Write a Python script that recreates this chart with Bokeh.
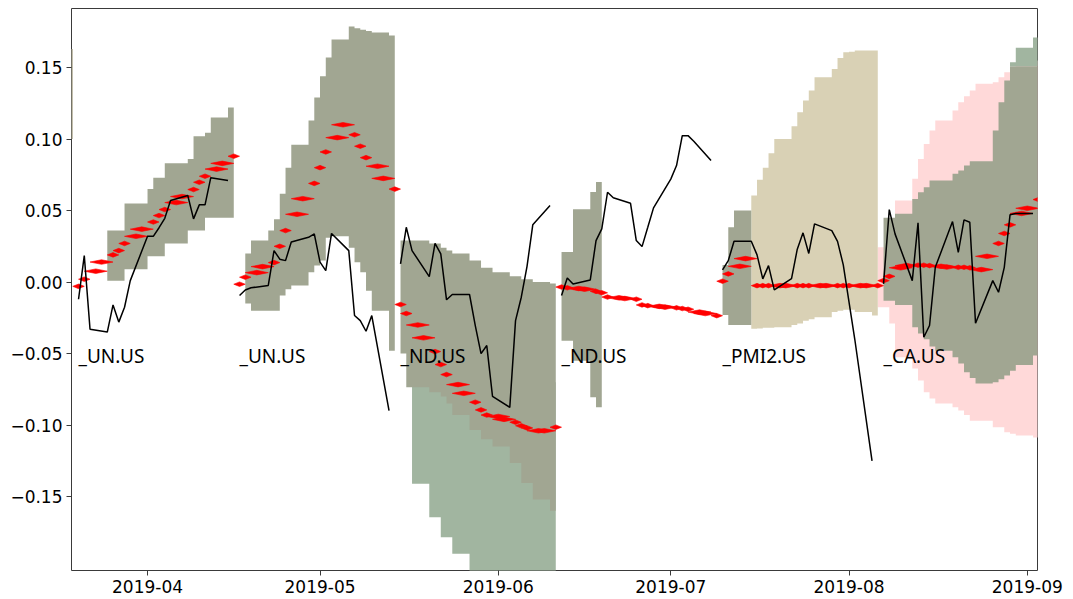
import numpy as np
import pandas as pd
from bokeh.plotting import figure
from bokeh.models import FixedTicker, CustomJSTickFormatter, Range1d
from bokeh.embed import file_html
from bokeh.resources import INLINE
from bokeh.core.properties import value

# ---------------- data ----------------
labels = ["_UN.US", "_UN.US", "_ND.US", "_ND.US", "_PMI2.US", "_CA.US"]
label_dates = ["2019-03-20", "2019-04-17", "2019-05-15", "2019-06-12", "2019-07-10", "2019-08-07"]
label_level = -0.052

month_ticks = ["2019-04-01", "2019-05-01", "2019-06-01", "2019-07-01", "2019-08-01", "2019-09-01"]
y_ticks = [-0.15, -0.10, -0.05, 0.0, 0.05, 0.10, 0.15]

# red (median path) : one value per weekday from the start date
red_starts = ["2019-03-19", "2019-04-16", "2019-05-14", "2019-06-11", "2019-07-09", "2019-08-06"]
red1 = [-0.003, 0.002, 0.0076, 0.014, 0.019, 0.022, 0.027, 0.032, 0.037, 0.042,
        0.0465, 0.0507, 0.0556, 0.0598, 0.0647, 0.0698, 0.074, 0.079, 0.083, 0.088]
red2 = [-0.0015, 0.0034, 0.0066, 0.0108, 0.0136, 0.025, 0.036, 0.0474, 0.0583, 0.069,
        0.080, 0.091, 0.101, 0.110, 0.103, 0.095, 0.087, 0.081, 0.0725, 0.065]
red3 = [-0.0157, -0.022, -0.030, -0.039, -0.0486, -0.0577, -0.0647, -0.0717, -0.0778, -0.084,
        -0.0894, -0.093, -0.094, -0.096, -0.098, -0.1005, -0.102, -0.104, -0.104, -0.1015]
red4 = [-0.0035, -0.004, -0.0045, -0.005, -0.0065, -0.0075, -0.0105, -0.011, -0.0115, -0.012,
        -0.016, -0.0165, -0.017, -0.0175, -0.018, -0.0185, -0.019, -0.021, -0.022, -0.0235]
red5 = [0.0006, 0.0057, 0.011, 0.0164, -0.0025, -0.0025, -0.0025, -0.0025, -0.0025, -0.0025,
        -0.0025, -0.0025, -0.0025, -0.0025, -0.0025, -0.0025, -0.0025, -0.0025, -0.0025, -0.0025]
red6 = [0.001, 0.004, 0.010, 0.0115, 0.0118, 0.0118, 0.0115, 0.011, 0.0105, 0.0103,
        0.0103, 0.010, 0.0087, 0.018, 0.027, 0.034, 0.040, 0.048, 0.0516, 0.0577]

# black (realised path) : one value per weekday from the start date
black_starts = ["2019-03-20", "2019-04-17", "2019-05-15", "2019-06-12", "2019-07-10", "2019-08-07"]
black1 = [-0.012, 0.0185, -0.033, -0.035, -0.016, -0.028, -0.0176, 0.001, 0.032, 0.032,
          0.038, 0.0446, 0.057, 0.0605, 0.0442, 0.054, 0.054, 0.073, 0.071]
black2 = [-0.0094, -0.0055, -0.004, -0.0024, 0.022, 0.016, 0.015, 0.028, 0.0313, 0.0337,
          0.0139, 0.008, 0.034, 0.022, -0.0234, -0.027, -0.0344, -0.0234, -0.0899]
black3 = [0.0127, 0.0383, 0.022, 0.0038, 0.027, 0.0197, -0.0124, -0.0087, -0.0087, -0.0304,
          -0.050, -0.0444, -0.080, -0.0876, -0.027, -0.0106, 0.011, 0.040, 0.0535]
black4 = [-0.0094, 0.0029, -0.0013, 0.0015, 0.029, 0.0372, 0.0628, 0.0589, 0.0551, 0.029,
          0.0248, 0.0383, 0.0519, 0.072, 0.0815, 0.1024, 0.1024, 0.0985, 0.085]
black5 = [0.0085, 0.015, 0.0285, 0.0285, 0.019, 0.0022, 0.0115, -0.0055, 0.0024, 0.023,
          0.0344, 0.020, 0.0407, 0.036, 0.0285, 0.012, -0.014, -0.040, -0.125]
black6 = [-0.0013, 0.0507, 0.0337, 0.001, 0.0414, -0.0386, -0.0304, 0.0103, 0.0423, 0.0208,
          0.0435, 0.0418, -0.0288, 0.001, -0.0071, 0.0103, 0.047, 0.048, 0.048]

# quantile bands (step after; last date closes the band)
band0_dates = ["2019-03-18", "2019-03-19"]
band0_hi = [0.163, 0.163]
band0_lo = [0.100, 0.100]

band1_dates = ["2019-03-25", "2019-03-28", "2019-04-01", "2019-04-02", "2019-04-04", "2019-04-08",
               "2019-04-09", "2019-04-11", "2019-04-12", "2019-04-15", "2019-04-16"]
band1_hi = [0.036, 0.055, 0.065, 0.073, 0.083, 0.086, 0.102, 0.1045, 0.115, 0.122, 0.122]
band1_lo = [0.001, 0.009, 0.018, 0.018, 0.027, 0.036, 0.036, 0.045, 0.045, 0.045, 0.045]

band2_dates = ["2019-04-18", "2019-04-19", "2019-04-22", "2019-04-23", "2019-04-24", "2019-04-25",
               "2019-04-26", "2019-04-29", "2019-04-30", "2019-05-01", "2019-05-02", "2019-05-03",
               "2019-05-06", "2019-05-07", "2019-05-08", "2019-05-09", "2019-05-10", "2019-05-13",
               "2019-05-14"]
band2_hi = [0.020, 0.029, 0.036, 0.044, 0.0617, 0.080, 0.096, 0.113, 0.129, 0.144, 0.157, 0.1696,
            0.1787, 0.1775, 0.1765, 0.1755, 0.1745, 0.1725, 0.1725]
band2_lo = [-0.015, -0.020, -0.020, -0.020, -0.0094, -0.005, -0.0024, 0.0069, 0.0115, 0.015, 0.031,
            0.032, 0.024, 0.0138, 0.0069, -0.006, -0.020, -0.048, -0.048]

band3_dates = ["2019-05-15", "2019-05-16", "2019-05-20", "2019-05-22", "2019-05-23", "2019-05-24",
               "2019-05-27", "2019-05-29", "2019-05-31", "2019-06-03", "2019-06-05", "2019-06-07",
               "2019-06-10", "2019-06-11"]
band3_hi = [0.029, 0.029, 0.027, 0.024, 0.022, 0.020, 0.015, 0.010, 0.0069, 0.004, 0.002, 0.000,
            -0.001, -0.001]
band3_lo = [-0.050, -0.0736, -0.077, -0.080, -0.085, -0.093, -0.1035, -0.110, -0.115, -0.1265,
            -0.1405, -0.152, -0.160, -0.160]

wide3_dates = ["2019-05-17", "2019-05-20", "2019-05-22", "2019-05-24", "2019-05-27", "2019-06-11"]
wide3_hi = [-0.070, -0.070, -0.070, -0.070, -0.070, -0.070]
wide3_lo = [-0.141, -0.1645, -0.1785, -0.190, -0.250, -0.250]

band4_dates = ["2019-06-12", "2019-06-14", "2019-06-17", "2019-06-18", "2019-06-19"]
band4_hi = [0.021, 0.051, 0.063, 0.070, 0.070]
band4_lo = [-0.041, -0.055, -0.0806, -0.0876, -0.0876]

band5_dates = ["2019-07-10", "2019-07-11", "2019-07-12", "2019-07-15"]
band5_hi = [0.012, 0.0383, 0.050, 0.050]
band5_lo = [-0.023, -0.030, -0.030, -0.030]

tan5_dates = ["2019-07-15", "2019-07-16", "2019-07-17", "2019-07-18", "2019-07-19", "2019-07-22",
              "2019-07-23", "2019-07-24", "2019-07-25", "2019-07-26", "2019-07-29", "2019-07-30",
              "2019-07-31", "2019-08-01", "2019-08-02", "2019-08-05", "2019-08-06"]
tan5_hi = [0.0605, 0.0715, 0.080, 0.090, 0.100, 0.109, 0.1187, 0.127, 0.134, 0.1432, 0.149,
           0.1567, 0.1607, 0.161, 0.162, 0.162, 0.162]
tan5_lo = [-0.0327, -0.0325, -0.032, -0.032, -0.0316, -0.030, -0.029, -0.027, -0.026, -0.0246,
           -0.021, -0.020, -0.0194, -0.0194, -0.021, -0.0234, -0.0234]

pink6_dates = ["2019-08-06", "2019-08-07", "2019-08-08", "2019-08-09", "2019-08-12", "2019-08-13",
               "2019-08-14", "2019-08-15", "2019-08-16", "2019-08-19", "2019-08-20", "2019-08-21",
               "2019-08-22", "2019-08-23", "2019-08-26", "2019-08-27", "2019-08-28", "2019-08-29",
               "2019-08-30", "2019-09-02", "2019-09-03"]
pink6_hi = [0.0243, 0.0243, 0.0243, 0.057, 0.0722, 0.086, 0.0966, 0.106, 0.113, 0.120, 0.1257,
            0.130, 0.134, 0.1386, 0.1397, 0.1432, 0.1467, 0.1497, 0.152, 0.155, 0.155]
pink6_lo = [-0.0176, -0.0176, -0.029, -0.0526, -0.0605, -0.0689, -0.077, -0.0815, -0.085, -0.0875,
            -0.0899, -0.093, -0.0969, -0.0969, -0.1015, -0.1015, -0.105, -0.106, -0.1073, -0.1087,
            -0.1087]

band6_dates = ["2019-08-07", "2019-08-09", "2019-08-12", "2019-08-13", "2019-08-14", "2019-08-15",
               "2019-08-16", "2019-08-19", "2019-08-20", "2019-08-21", "2019-08-22", "2019-08-23",
               "2019-08-26", "2019-08-27", "2019-08-28", "2019-08-29", "2019-08-30", "2019-09-02",
               "2019-09-03"]
band6_hi = [0.045, 0.0477, 0.058, 0.0628, 0.0663, 0.071, 0.071, 0.0757, 0.078, 0.0815, 0.0845,
            0.0845, 0.106, 0.1257, 0.141, 0.151, 0.151, 0.151, 0.151]
band6_lo = [-0.013, -0.016, -0.0316, -0.036, -0.040, -0.045, -0.048, -0.0526, -0.057, -0.063,
            -0.067, -0.071, -0.070, -0.068, -0.0654, -0.062, -0.058, -0.0514, -0.0514]

wide6_dates = ["2019-08-29", "2019-08-30", "2019-09-02", "2019-09-03"]
wide6_hi = [0.1537, 0.1638, 0.171, 0.171]
wide6_lo = [0.151, 0.151, 0.151, 0.151]

# ---------------- helpers ----------------
def ms(d):
    return pd.Timestamp(d).value / 1e6

def ms_list(ds):
    return [ms(d) for d in ds]

def weekdays(start, n):
    return list(pd.bdate_range(start, periods=n))

OLIVE = "#a1a692"
SAGE = "#a1b5a0"
TAN = "#d9d1b5"
PINK = "#ffd9d9"

x_start = ms("2019-03-18 18:40")
x_end = ms("2019-09-02 18:40")

p = figure(width=1070, height=598, x_axis_type="datetime",
           x_range=Range1d(x_start, x_end), y_range=Range1d(-0.2017, 0.1913),
           output_backend="svg", toolbar_location=None,
           min_border_left=71, min_border_right=33, min_border_top=8, min_border_bottom=28)
p.background_fill_color = "white"
p.border_fill_color = "white"
p.outline_line_color = "#3a3a3a"
p.outline_line_width = 1
p.xgrid.visible = False
p.ygrid.visible = False

def band(ds, hi, lo, color):
    p.varea_step(x=ms_list(ds), y1=lo, y2=hi, step_mode="after",
                 fill_color=color, fill_alpha=1.0)

band(pink6_dates, pink6_hi, pink6_lo, PINK)
band(wide3_dates, wide3_hi, wide3_lo, SAGE)
band(tan5_dates, tan5_hi, tan5_lo, TAN)
band(band0_dates, band0_hi, band0_lo, "#b2ad96")
band(band1_dates, band1_hi, band1_lo, OLIVE)
band(band2_dates, band2_hi, band2_lo, OLIVE)
band(band3_dates, band3_hi, band3_lo, OLIVE)
band(band4_dates, band4_hi, band4_lo, OLIVE)
band(band5_dates, band5_hi, band5_lo, OLIVE)
band(band6_dates, band6_hi, band6_lo, OLIVE)
band(wide6_dates, wide6_hi, wide6_lo, SAGE)

# red lozenges: each weekday value spans to two weekdays later
HALF = 0.0016
xs, ys = [], []
for start, vals in zip(red_starts, [red1, red2, red3, red4, red5, red6]):
    days = weekdays(start, len(vals))
    for d, v in zip(days, vals):
        e = pd.Timestamp(np.busday_offset(np.datetime64(d.date()), 2, roll="forward"))
        t0, t1 = ms(d), ms(e)
        tm = (t0 + t1) / 2
        xs.append([t0, tm, t1, tm])
        ys.append([v, v + HALF, v, v - HALF])
p.patches(xs, ys, fill_color="#ff0000", line_color="#ff0000", line_width=0.6)

for start, vals in zip(black_starts, [black1, black2, black3, black4, black5, black6]):
    days = weekdays(start, len(vals))
    p.line(ms_list(days), vals, line_color="black", line_width=1.5)

p.text(x=ms_list(label_dates), y=[label_level] * len(labels), text=labels,
       text_font=value("Noto Sans"), text_font_size="19px", text_color="black",
       text_baseline="alphabetic", text_align="left")

# axes
p.xaxis.ticker = FixedTicker(ticks=ms_list(month_ticks))
p.xaxis.formatter = CustomJSTickFormatter(code="""
    const d = new Date(tick);
    const m = d.getUTCMonth() + 1;
    return d.getUTCFullYear() + '-' + (m < 10 ? '0' + m : '' + m);
""")
p.yaxis.ticker = FixedTicker(ticks=y_ticks)
p.yaxis.formatter = CustomJSTickFormatter(code="""
    const s = Math.abs(tick).toFixed(2);
    return (tick < -1e-9 ? '\\u2212' : '') + s;
""")
for ax in (p.xaxis[0], p.yaxis[0]):
    ax.axis_line_color = None
    ax.major_tick_line_color = "#3a3a3a"
    ax.major_tick_out = 5
    ax.major_tick_in = 0
    ax.minor_tick_line_color = None
    ax.major_label_text_font = "DejaVu Sans"
    ax.major_label_text_font_size = "17px"
    ax.major_label_text_color = "black"
    ax.major_label_standoff = 4

open("out.html", "w").write(file_html(p, INLINE))
